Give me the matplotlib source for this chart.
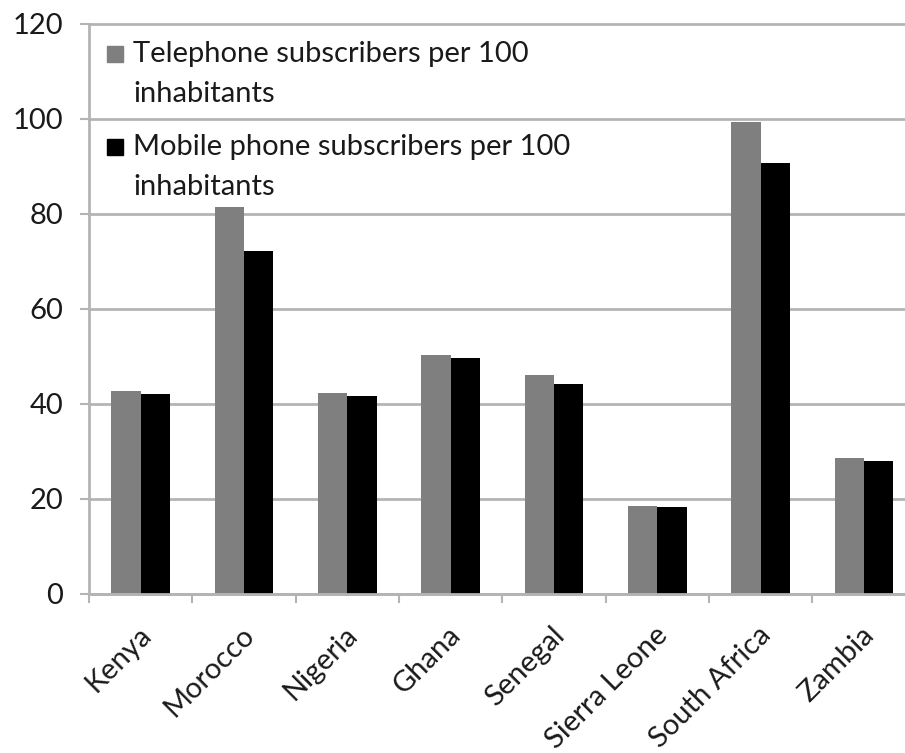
import numpy as np
import matplotlib
matplotlib.use("Agg")
import matplotlib.pyplot as plt
from matplotlib.transforms import ScaledTranslation

countries = ["Kenya", "Morocco", "Nigeria", "Ghana", "Senegal",
             "Sierra Leone", "South Africa", "Zambia"]
telephone = [42.7, 81.5, 42.3, 50.2, 46.0, 18.4, 99.4, 28.5]
mobile = [42.0, 72.1, 41.7, 49.6, 44.1, 18.2, 90.8, 28.0]
series_names = ["Telephone subscribers per 100\ninhabitants",
                "Mobile phone subscribers per 100\ninhabitants"]
yticks = [0, 20, 40, 60, 80, 100, 120]

plt.rcParams['font.family'] = ['Lato', 'DejaVu Sans']
W, H = 905, 753
fig = plt.figure(figsize=(W / 100, H / 100), dpi=100)

def fx(px):
    return px / W

def fy(py):
    return 1 - py / H

ax = fig.add_axes([fx(89), fy(593.5), 826.7 / W, (593.5 - 24) / H])

FS = 21
txt_c = '#1a1a1a'
grid_c = '#b4b4b4'
x = np.arange(len(countries))
w = 0.283
ax.bar(x - w / 2, telephone, w, color='#7f7f7f', zorder=2)
ax.bar(x + w / 2, mobile, w, color='#000000', zorder=2)

ax.set_xlim(-0.5, len(countries) - 0.5)
ax.set_ylim(0, 120)
ax.set_yticks(yticks)
ax.yaxis.grid(True, color=grid_c, lw=2, zorder=0)
for gl in ax.get_ygridlines():
    gl.set_clip_on(False)
ax.set_axisbelow(True)

for s in ['top', 'right']:
    ax.spines[s].set_visible(False)
for s in ['left', 'bottom']:
    ax.spines[s].set_color(grid_c)
    ax.spines[s].set_linewidth(2)

ax.tick_params(axis='y', length=6.5, width=1.5, color=grid_c, pad=12,
               labelsize=FS, labelcolor=txt_c)
ax.set_xticks(x)
ax.set_xticklabels(countries, rotation=45, ha='right', va='center',
                   rotation_mode='anchor', fontsize=FS, color=txt_c)
ax.tick_params(axis='x', which='major', length=0, pad=27)
ax.set_xticks(np.arange(-0.5, len(countries), 1), minor=True)
ax.tick_params(axis='x', which='minor', length=6.5, width=1.5, color=grid_c)
off = ScaledTranslation(6 / 100, 0, fig.dpi_scale_trans)
for lab in ax.get_xticklabels():
    lab.set_transform(lab.get_transform() + off)

# legend (manual, top-left inside plot)
leg_y = [54, 147]
leg_c = ['#7f7f7f', '#000000']
for yy, c, name in zip(leg_y, leg_c, series_names):
    fig.add_artist(plt.Line2D([fx(115)], [fy(yy)], marker='s', markersize=11.5,
                              color=c, linestyle='none'))
    fig.text(fx(133), fy(yy - 13), name, ha='left', va='top', fontsize=FS,
             color=txt_c, linespacing=1.65)

fig.savefig('out.png', dpi=100)
